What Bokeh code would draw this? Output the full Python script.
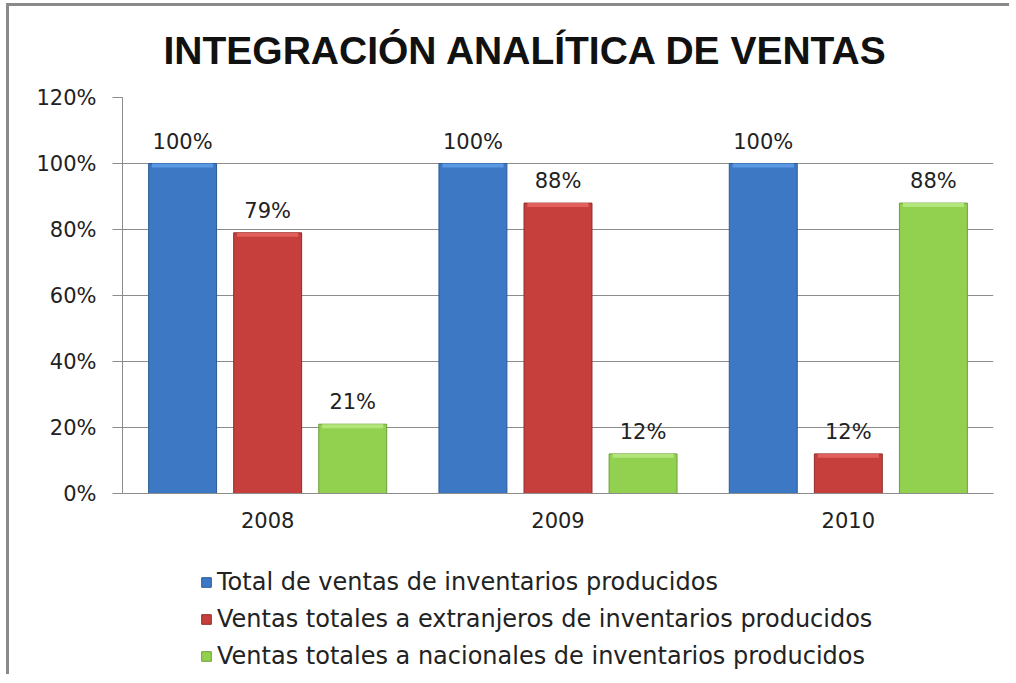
from bokeh.plotting import figure
from bokeh.layouts import column
from bokeh.models import (ColumnDataSource, FactorRange, Range1d, FixedTicker,
                          NumeralTickFormatter, Legend, LegendItem, LabelSet)
from bokeh.core.properties import value
from bokeh.transform import dodge
from bokeh.embed import file_html
from bokeh.resources import INLINE

# ---- data ----
years = ["2008", "2009", "2010"]
series_names = [
    "Total de ventas de inventarios producidos",
    "Ventas totales a extranjeros de inventarios producidos",
    "Ventas totales a nacionales de inventarios producidos",
]
total = [1.00, 1.00, 1.00]
extranjeros = [0.79, 0.88, 0.12]
nacionales = [0.21, 0.12, 0.88]
y_ticks = [0, 0.2, 0.4, 0.6, 0.8, 1.0, 1.2]
title_text = "INTEGRACIÓN ANALÍTICA DE VENTAS"

fills = ["#3c78c4", "#c63f3c", "#92d050"]
lines = ["#2b5a95", "#8e2b29", "#6e9e3a"]
tops = ["#5a98e4", "#e2605c", "#b2e67a"]
offsets = [-0.293, 0.0, 0.293]
bar_w = 0.234

p = figure(width=1009, height=543, x_range=FactorRange(*years), y_range=Range1d(0, 1.2),
           output_backend="svg", toolbar_location=None,
           min_border_left=122, min_border_right=16, min_border_top=97, min_border_bottom=50)
p.border_fill_color = None

p.title.text = title_text
p.title.text_font = "Liberation Sans"
p.title.text_font_style = "bold"
p.title.text_font_size = "39px"
p.title.text_color = "#111111"
p.title.align = "left"
p.title.offset = 41
p.title.standoff = 51

p.outline_line_color = None
p.xgrid.grid_line_color = None
p.ygrid.grid_line_color = "#8c8c8c"
p.ygrid.grid_line_width = 1

p.yaxis.ticker = FixedTicker(ticks=y_ticks)
p.yaxis.formatter = NumeralTickFormatter(format="0%")
p.yaxis.axis_line_color = "#8c8c8c"
p.yaxis.major_tick_line_color = "#8c8c8c"
p.yaxis.major_tick_out = 10
p.yaxis.major_tick_in = 0
p.yaxis.minor_tick_line_color = None
p.yaxis.major_label_standoff = 16

p.xaxis.axis_line_color = "#8c8c8c"
p.xaxis.major_tick_line_color = None
p.xaxis.major_tick_out = 0
p.xaxis.major_label_standoff = 18

for ax in (p.xaxis, p.yaxis):
    ax.major_label_text_font = "DejaVu Sans"
    ax.major_label_text_font_size = "21px"
    ax.major_label_text_color = "#222222"

# legend figure (below the chart)
p2 = figure(width=1009, height=131, x_range=FactorRange(*years), y_range=Range1d(2, 3),
            output_backend="svg", toolbar_location=None,
            min_border_left=122, min_border_right=16, min_border_top=0, min_border_bottom=0)
p2.axis.visible = False
p2.grid.visible = False
p2.outline_line_color = None
p2.border_fill_color = None
p2.background_fill_color = None

series_vals = [total, extranjeros, nacionales]
legend_items = []
for i, vals in enumerate(series_vals):
    src = ColumnDataSource(dict(
        year=years, top=vals,
        hl_bottom=[v - 0.012 for v in vals],
        label=[f"{round(v * 100)}%" for v in vals],
    ))
    x = dodge("year", offsets[i], range=p.x_range)
    p.vbar(x=x, top="top", bottom=0, width=bar_w, source=src,
           fill_color=fills[i], line_color=lines[i], line_width=1)
    p.vbar(x=x, top="top", bottom="hl_bottom", width=bar_w * 0.9, source=src,
           fill_color=tops[i], line_color=None)
    labels = LabelSet(x=x, y="top", text="label", source=src, text_align="center",
                      text_baseline="bottom", y_offset=10, text_font=value("DejaVu Sans"),
                      text_font_size=value("21px"), text_color="#222222")
    p.add_layout(labels)
    r2 = p2.vbar(x=dodge("year", offsets[i], range=p2.x_range), top="top", bottom=0,
                 width=bar_w, source=src, fill_color=fills[i], line_color=lines[i],
                 line_width=1, visible=False)
    legend_items.append(LegendItem(label=series_names[i], renderers=[r2]))

legend = Legend(items=legend_items, location=(78, 4))
legend.orientation = "vertical"
legend.label_text_font = "DejaVu Sans"
legend.label_text_font_size = "24px"
legend.label_text_color = "#222222"
legend.glyph_width = 12
legend.glyph_height = 12
legend.label_standoff = 5
legend.spacing = 9
legend.padding = 0
legend.margin = 0
legend.border_line_color = None
legend.background_fill_alpha = 0
p2.add_layout(legend)

layout = column(p, p2, spacing=0)
layout.styles = {
    "background": ("linear-gradient(#8a8a8a, #8a8a8a) 6px 3px / 3px 100% no-repeat, "
                   "linear-gradient(#8a8a8a, #8a8a8a) 6px 3px / 100% 3px no-repeat, #ffffff"),
}

open("out.html", "w").write(file_html(layout, INLINE))
